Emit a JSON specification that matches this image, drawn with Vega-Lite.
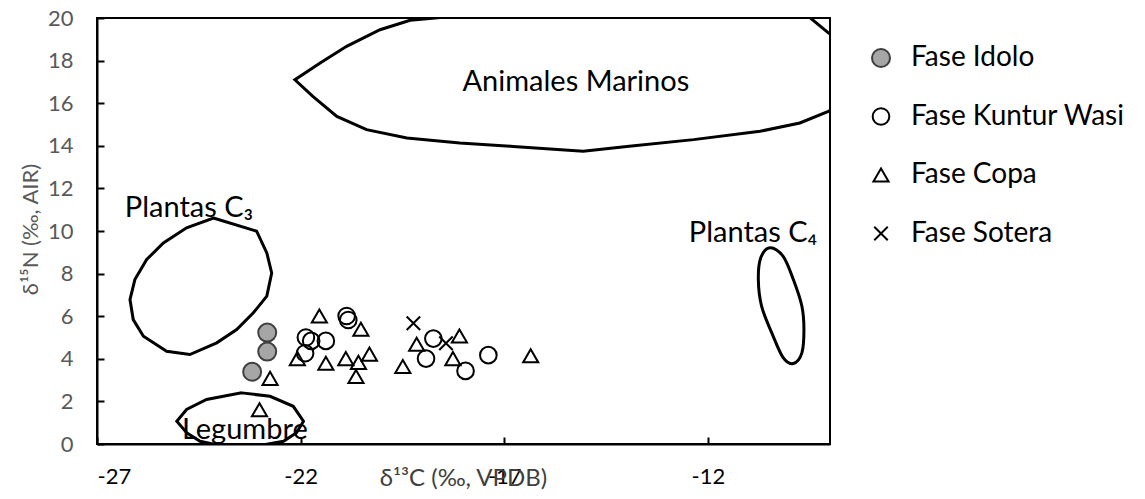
{
  "$schema": "https://vega.github.io/schema/vega-lite/v6.json",
  "autosize": {"type": "none"},
  "width": 733,
  "height": 426,
  "padding": {"left": 97, "top": 18, "right": 315, "bottom": 55},
  "background": "#ffffff",
  "datasets": {
    "marinos": [
      {"zona": "Animales Marinos", "o": 1, "x": -16.61, "y": 20.72},
      {"zona": "Animales Marinos", "o": 2, "x": -17.10, "y": 20.31},
      {"zona": "Animales Marinos", "o": 3, "x": -18.70, "y": 20.0},
      {"zona": "Animales Marinos", "o": 4, "x": -19.31, "y": 19.89},
      {"zona": "Animales Marinos", "o": 5, "x": -20.05, "y": 19.45},
      {"zona": "Animales Marinos", "o": 6, "x": -20.87, "y": 18.67},
      {"zona": "Animales Marinos", "o": 7, "x": -21.52, "y": 17.89},
      {"zona": "Animales Marinos", "o": 8, "x": -22.14, "y": 17.10},
      {"zona": "Animales Marinos", "o": 9, "x": -21.70, "y": 16.32},
      {"zona": "Animales Marinos", "o": 10, "x": -21.11, "y": 15.38},
      {"zona": "Animales Marinos", "o": 11, "x": -20.38, "y": 14.76},
      {"zona": "Animales Marinos", "o": 12, "x": -19.39, "y": 14.37},
      {"zona": "Animales Marinos", "o": 13, "x": -18.09, "y": 14.13},
      {"zona": "Animales Marinos", "o": 14, "x": -16.78, "y": 13.97},
      {"zona": "Animales Marinos", "o": 15, "x": -15.06, "y": 13.74},
      {"zona": "Animales Marinos", "o": 16, "x": -13.99, "y": 13.97},
      {"zona": "Animales Marinos", "o": 17, "x": -12.35, "y": 14.29},
      {"zona": "Animales Marinos", "o": 18, "x": -10.72, "y": 14.68},
      {"zona": "Animales Marinos", "o": 19, "x": -9.74, "y": 15.07},
      {"zona": "Animales Marinos", "o": 20, "x": -9.04, "y": 15.62},
      {"zona": "Animales Marinos", "o": 21, "x": -8.50, "y": 16.20},
      {"zona": "Animales Marinos", "o": 22, "x": -8.60, "y": 18.75},
      {"zona": "Animales Marinos", "o": 23, "x": -9.04, "y": 19.30},
      {"zona": "Animales Marinos", "o": 24, "x": -9.45, "y": 19.95},
      {"zona": "Animales Marinos", "o": 25, "x": -9.86, "y": 20.62},
      {"zona": "Animales Marinos", "o": 26, "x": -16.61, "y": 20.72}
    ],
    "poligonos": [
      {"zona": "C3", "o": 1, "x": -24.14, "y": 10.61},
      {"zona": "C3", "o": 2, "x": -23.08, "y": 9.99},
      {"zona": "C3", "o": 3, "x": -22.83, "y": 8.97},
      {"zona": "C3", "o": 4, "x": -22.71, "y": 8.03},
      {"zona": "C3", "o": 5, "x": -22.83, "y": 6.94},
      {"zona": "C3", "o": 6, "x": -23.16, "y": 6.16},
      {"zona": "C3", "o": 7, "x": -23.57, "y": 5.37},
      {"zona": "C3", "o": 8, "x": -24.06, "y": 4.75},
      {"zona": "C3", "o": 9, "x": -24.72, "y": 4.20},
      {"zona": "C3", "o": 10, "x": -25.29, "y": 4.35},
      {"zona": "C3", "o": 11, "x": -25.86, "y": 5.06},
      {"zona": "C3", "o": 12, "x": -26.11, "y": 5.84},
      {"zona": "C3", "o": 13, "x": -26.19, "y": 6.78},
      {"zona": "C3", "o": 14, "x": -26.07, "y": 7.72},
      {"zona": "C3", "o": 15, "x": -25.78, "y": 8.66},
      {"zona": "C3", "o": 16, "x": -25.37, "y": 9.44},
      {"zona": "C3", "o": 17, "x": -24.80, "y": 10.15},
      {"zona": "Legumbre", "o": 1, "x": -23.45, "y": 2.40},
      {"zona": "Legumbre", "o": 2, "x": -22.75, "y": 2.24},
      {"zona": "Legumbre", "o": 3, "x": -22.18, "y": 1.77},
      {"zona": "Legumbre", "o": 4, "x": -21.93, "y": 1.07},
      {"zona": "Legumbre", "o": 5, "x": -22.10, "y": 0.53},
      {"zona": "Legumbre", "o": 6, "x": -22.42, "y": 0.13},
      {"zona": "Legumbre", "o": 7, "x": -23.00, "y": -0.07},
      {"zona": "Legumbre", "o": 8, "x": -23.98, "y": -0.07},
      {"zona": "Legumbre", "o": 9, "x": -24.47, "y": 0.13},
      {"zona": "Legumbre", "o": 10, "x": -24.80, "y": 0.53},
      {"zona": "Legumbre", "o": 11, "x": -25.04, "y": 1.07},
      {"zona": "Legumbre", "o": 12, "x": -24.80, "y": 1.62},
      {"zona": "Legumbre", "o": 13, "x": -24.31, "y": 2.09}
    ],
    "c4": [
      {"zona": "C4", "o": 1, "x": -10.47, "y": 9.21},
      {"zona": "C4", "o": 2, "x": -10.15, "y": 8.81},
      {"zona": "C4", "o": 3, "x": -9.90, "y": 7.72},
      {"zona": "C4", "o": 4, "x": -9.69, "y": 6.47},
      {"zona": "C4", "o": 5, "x": -9.64, "y": 5.37},
      {"zona": "C4", "o": 6, "x": -9.69, "y": 4.28},
      {"zona": "C4", "o": 7, "x": -9.90, "y": 3.78},
      {"zona": "C4", "o": 8, "x": -10.15, "y": 4.05},
      {"zona": "C4", "o": 9, "x": -10.43, "y": 5.22},
      {"zona": "C4", "o": 10, "x": -10.68, "y": 6.47},
      {"zona": "C4", "o": 11, "x": -10.76, "y": 7.72},
      {"zona": "C4", "o": 12, "x": -10.70, "y": 8.74}
    ],
    "etiquetas": [
      {"label": "Animales Marinos", "x": -15.24, "y": 17.01},
      {"label": "Plantas C₃", "x": -24.74, "y": 11.10},
      {"label": "Plantas C₄", "x": -10.89, "y": 9.92},
      {"label": "Legumbre", "x": -23.37, "y": 0.68}
    ],
    "muestras": [
      {"serie": "Fase Idolo", "x": -22.82, "y": 5.23},
      {"serie": "Fase Idolo", "x": -22.82, "y": 4.34},
      {"serie": "Fase Idolo", "x": -23.19, "y": 3.39},
      {"serie": "Fase Kuntur Wasi", "x": -20.87, "y": 6.01},
      {"serie": "Fase Kuntur Wasi", "x": -20.83, "y": 5.82},
      {"serie": "Fase Kuntur Wasi", "x": -21.87, "y": 5.0},
      {"serie": "Fase Kuntur Wasi", "x": -21.74, "y": 4.84},
      {"serie": "Fase Kuntur Wasi", "x": -21.38, "y": 4.84},
      {"serie": "Fase Kuntur Wasi", "x": -21.89, "y": 4.26},
      {"serie": "Fase Kuntur Wasi", "x": -18.74, "y": 4.95},
      {"serie": "Fase Kuntur Wasi", "x": -18.92, "y": 4.01},
      {"serie": "Fase Kuntur Wasi", "x": -17.39, "y": 4.17},
      {"serie": "Fase Kuntur Wasi", "x": -17.95, "y": 3.43},
      {"serie": "Fase Copa", "x": -21.54, "y": 6.01},
      {"serie": "Fase Copa", "x": -20.52, "y": 5.39},
      {"serie": "Fase Copa", "x": -22.08, "y": 4.01},
      {"serie": "Fase Copa", "x": -21.38, "y": 3.79},
      {"serie": "Fase Copa", "x": -20.89, "y": 4.01},
      {"serie": "Fase Copa", "x": -20.31, "y": 4.22},
      {"serie": "Fase Copa", "x": -20.58, "y": 3.83},
      {"serie": "Fase Copa", "x": -20.64, "y": 3.17},
      {"serie": "Fase Copa", "x": -19.15, "y": 4.68},
      {"serie": "Fase Copa", "x": -19.49, "y": 3.64},
      {"serie": "Fase Copa", "x": -18.10, "y": 5.07},
      {"serie": "Fase Copa", "x": -18.26, "y": 4.01},
      {"serie": "Fase Copa", "x": -16.35, "y": 4.14},
      {"serie": "Fase Copa", "x": -22.75, "y": 3.08},
      {"serie": "Fase Copa", "x": -23.01, "y": 1.61},
      {"serie": "Fase Sotera", "x": -19.23, "y": 5.67},
      {"serie": "Fase Sotera", "x": -18.43, "y": 4.73}
    ]
  },
  "encoding": {
    "x": {
      "field": "x", "type": "quantitative",
      "scale": {"domain": [-27, -9], "nice": false, "zero": false},
      "axis": {
        "values": [-27, -22, -17, -12],
        "labelExpr": "datum.value < 0 ? '-' + abs(datum.value) : '' + datum.value",
        "title": "δ¹³C (‰, VPDB)",
        "labelColor": "#000000",
        "titleColor": "#404040",
        "titleFontSize": 24,
        "labelPadding": 39,
        "labelBaseline": "middle",
        "titleX": 366,
        "titleY": 34,
        "titleBaseline": "middle"
      }
    },
    "y": {
      "field": "y", "type": "quantitative",
      "scale": {"domain": [0, 20], "nice": false, "zero": false},
      "axis": {
        "values": [0, 2, 4, 6, 8, 10, 12, 14, 16, 18, 20],
        "title": "δ¹⁵N (‰, AIR)",
        "labelPadding": 31,
        "titleX": -67,
        "titleY": 211,
        "titleBaseline": "middle"
      }
    }
  },
  "layer": [
    {
      "data": {"name": "marinos"},
      "mark": {"type": "line", "stroke": "#000000", "strokeWidth": 3, "clip": true, "interpolate": "linear"},
      "encoding": {"detail": {"field": "zona"}, "order": {"field": "o", "type": "quantitative"}}
    },
    {
      "data": {"name": "poligonos"},
      "mark": {"type": "line", "stroke": "#000000", "strokeWidth": 3, "clip": true, "interpolate": "linear-closed"},
      "encoding": {"detail": {"field": "zona"}, "order": {"field": "o", "type": "quantitative"}}
    },
    {
      "data": {"name": "c4"},
      "mark": {"type": "line", "stroke": "#000000", "strokeWidth": 3, "clip": true, "interpolate": "cardinal-closed"},
      "encoding": {"detail": {"field": "zona"}, "order": {"field": "o", "type": "quantitative"}}
    },
    {
      "data": {"name": "muestras"},
      "mark": {"type": "point", "strokeWidth": 2, "opacity": 1, "filled": false},
      "encoding": {
        "shape": {
          "field": "serie", "type": "nominal",
          "scale": {
            "domain": ["Fase Idolo", "Fase Kuntur Wasi", "Fase Copa", "Fase Sotera"],
            "range": ["circle", "circle", "triangle-up", "M-1,-1L1,1M1,-1L-1,1"]
          },
          "legend": {"title": null}
        },
        "fill": {
          "field": "serie", "type": "nominal",
          "scale": {
            "domain": ["Fase Idolo", "Fase Kuntur Wasi", "Fase Copa", "Fase Sotera"],
            "range": ["#a6a6a6", "transparent", "transparent", "transparent"]
          },
          "legend": {"title": null}
        },
        "stroke": {
          "field": "serie", "type": "nominal",
          "scale": {
            "domain": ["Fase Idolo", "Fase Kuntur Wasi", "Fase Copa", "Fase Sotera"],
            "range": ["#3f3f3f", "#000000", "#000000", "#000000"]
          },
          "legend": {"title": null}
        },
        "size": {
          "field": "serie", "type": "nominal",
          "scale": {
            "domain": ["Fase Idolo", "Fase Kuntur Wasi", "Fase Copa", "Fase Sotera"],
            "range": [324, 182, 169, 190]
          },
          "legend": {"title": null}
        }
      }
    },
    {
      "data": {"name": "etiquetas"},
      "mark": {"type": "text", "fontSize": 29, "color": "#000000", "align": "center", "baseline": "middle", "font": "Lato, 'Noto Sans', sans-serif"},
      "encoding": {"text": {"field": "label"}}
    }
  ],
  "config": {
    "font": "Lato, 'Noto Sans', sans-serif",
    "view": {"stroke": "#000000", "strokeWidth": 2},
    "axis": {
      "grid": false,
      "domainColor": "#000000",
      "domainWidth": 2,
      "tickColor": "#000000",
      "tickWidth": 2,
      "tickSize": -7,
      "labelFont": "Lato, 'Noto Sans', sans-serif",
      "labelFontSize": 22,
      "labelColor": "#595959",
      "titleFont": "Lato, 'Noto Sans', sans-serif",
      "titleFontSize": 22,
      "titleColor": "#595959",
      "titleFontWeight": "normal"
    },
    "legend": {
      "orient": "none",
      "legendX": 770,
      "legendY": 26,
      "labelFont": "Lato, 'Noto Sans', sans-serif",
      "labelFontSize": 28,
      "labelColor": "#000000",
      "labelLimit": 0,
      "labelOffset": 16,
      "rowPadding": 30.5,
      "symbolStrokeWidth": 2,
      "padding": 0
    }
  }
}
